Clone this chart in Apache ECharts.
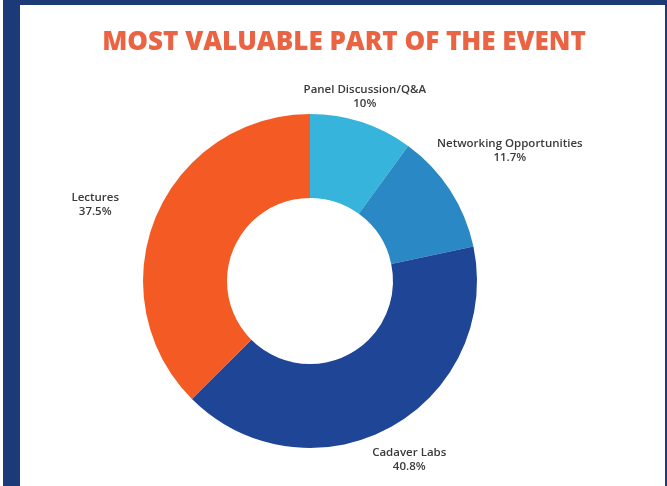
<!DOCTYPE html>
<html>
<head>
<meta charset="utf-8">
<script src="https://cdn.jsdelivr.net/npm/echarts@6/dist/echarts.min.js"></script>
<style>
  html, body { margin: 0; padding: 0; background: #ffffff; }
  #wrap { position: relative; width: 667px; height: 486px; overflow: hidden; background: #fff; }
  #chart { position: absolute; left: 0; top: 0; width: 667px; height: 486px; }
  .bar { position: absolute; background: #1c3a78; }
</style>
</head>
<body>
<div id="wrap">
  <div id="chart"></div>
  <div class="bar" style="left:3px;top:0;width:17px;height:486px;"></div>
  <div class="bar" style="left:3px;top:0;width:664px;height:5px;"></div>
  <div class="bar" style="left:665px;top:0;width:2px;height:486px;"></div>
</div>
<script>
const titleText = 'MOST VALUABLE PART OF THE EVENT';
const categories = ['Panel Discussion/Q&A', 'Networking Opportunities', 'Cadaver Labs', 'Lectures'];
const values = [10, 11.7, 40.8, 37.5];
const valueLabels = ['10%', '11.7%', '40.8%', '37.5%'];
const colors = ['#36b4dc', '#2a88c5', '#1f4597', '#f45a24'];

// layout styling
const pieCenter = [310, 281];
const labelRadius = 200;
const labelNudge = [[-7, 6], [32, -22], [4, 3], [-30, 0]];

const total = values.reduce((a, b) => a + b, 0);
function midAngle(i) {
  let before = 0;
  for (let k = 0; k < i; k++) before += values[k];
  return ((before + values[i] / 2) / total) * 2 * Math.PI;
}

const chart = echarts.init(document.getElementById('chart'), null, { renderer: 'canvas' });
chart.setOption({
  animation: false,
  backgroundColor: '#ffffff',
  title: {
    text: titleText,
    left: 339, top: 25, textAlign: 'center',
    textStyle: { color: '#ea6342', fontFamily: 'Open Sans', fontWeight: 800, fontSize: 26 }
  },
  series: [{
    type: 'pie',
    center: pieCenter,
    radius: [83, 167],
    startAngle: 90,
    clockwise: true,
    color: colors,
    label: {
      show: true,
      position: 'outside',
      formatter: (p) => p.name + '\n' + valueLabels[p.dataIndex],
      color: '#3a3a3a',
      fontFamily: 'Open Sans',
      fontWeight: 600,
      fontSize: 11.5,
      lineHeight: 14,
      align: 'center'
    },
    labelLine: { show: false, length: 12, length2: 0 },
    labelLayout: (p) => {
      const i = p.dataIndex;
      const a = midAngle(i);
      return {
        x: pieCenter[0] + labelRadius * Math.sin(a) + labelNudge[i][0],
        y: pieCenter[1] - labelRadius * Math.cos(a) + labelNudge[i][1],
        align: 'center',
        verticalAlign: 'middle'
      };
    },
    emphasis: { disabled: true },
    data: categories.map((c, i) => ({ name: c, value: values[i] }))
  }]
});
</script>
</body>
</html>
